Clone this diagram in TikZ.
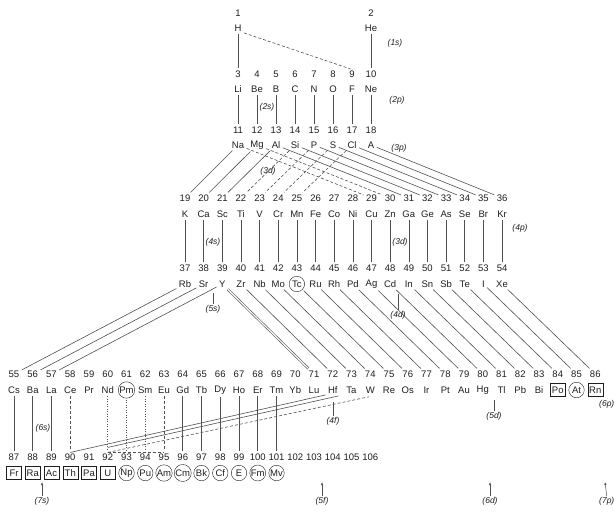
\documentclass[tikz,border=0pt]{standalone}
\usepackage{fontspec}
\setmainfont{Liberation Sans}
\usepackage{tikz}
\usetikzlibrary{arrows.meta}
\definecolor{inkgrey}{RGB}{30,30,30}
\definecolor{linegrey}{RGB}{80,80,80}
\tikzset{
  num/.style={inner sep=1pt,font=\fontsize{9.5}{10}\selectfont,text=inkgrey},
  sym/.style={inner sep=1pt,font=\fontsize{9.5}{10}\selectfont,text=inkgrey},
  bare/.style={},
  ringed/.style={draw=inkgrey,circle,inner sep=0.3pt,minimum size=15.5pt},
  boxed/.style={draw=inkgrey,rectangle,inner sep=1pt,minimum width=15pt,
    minimum height=13pt},
  link/.style={draw=linegrey,line width=0.6pt,shorten <=1.5pt,shorten >=1.5pt},
  sublink/.style={link,dash pattern=on 3pt off 2pt},
  dotlink/.style={link,dash pattern=on 1pt off 1.5pt},
  shell/.style={font=\fontsize{8.5}{9}\selectfont\itshape,inner sep=0.5pt,
    text=inkgrey},
  shelltick/.style={draw=linegrey,line width=0.5pt},
  onset/.style={draw=linegrey,line width=0.5pt,-{Latex[length=3pt,width=2.4pt]}}
}

\begin{document}
\begin{tikzpicture}[x=1pt,y=-1pt]
  \useasboundingbox (0,0) rectangle (615,511);
  % period 1
  \node[num] (n1) at (238,13) {1};
  \node[sym] (s1) at (238,28) {H};
  \node[num] (n2) at (371,13) {2};
  \node[sym] (s2) at (371,28) {He};
  % periods 2 and 3
  \foreach \z/\el [count=\k from 0] in {3/Li,4/Be,5/B,6/C,7/N,8/O,9/F,10/Ne} {
    \node[num] (n\z) at ({238+19*\k},74) {\z};
    \node[sym] (s\z) at ({238+19*\k},89) {\el};
  }
  \foreach \z/\el [count=\k from 0] in {11/Na,12/Mg,13/Al,14/Si,15/P,16/S,17/Cl,18/A} {
    \node[num] (n\z) at ({238+19*\k},130) {\z};
    \node[sym] (s\z) at ({238+19*\k},145) {\el};
  }
  % periods 4 and 5
  \foreach \z/\el [count=\k from 0] in {19/K,20/Ca,21/Sc,22/Ti,23/V,24/Cr,25/Mn,
      26/Fe,27/Co,28/Ni,29/Cu,30/Zn,31/Ga,32/Ge,33/As,34/Se,35/Br,36/Kr} {
    \node[num] (n\z) at ({185+18.65*\k},198) {\z};
    \node[sym] (s\z) at ({185+18.65*\k},214) {\el};
  }
  \foreach \z/\el/\look [count=\k from 0] in {37/Rb/bare,38/Sr/bare,39/Y/bare,
      40/Zr/bare,41/Nb/bare,42/Mo/bare,43/Tc/ringed,44/Ru/bare,45/Rh/bare,
      46/Pd/bare,47/Ag/bare,48/Cd/bare,49/In/bare,50/Sn/bare,51/Sb/bare,
      52/Te/bare,53/I/bare,54/Xe/bare} {
    \node[num] (n\z) at ({185+18.65*\k},268) {\z};
    \node[sym,\look] (s\z) at ({185+18.65*\k},284) {\el};
  }
  % period 6
  \foreach \z/\el/\look [count=\k from 0] in {55/Cs/bare,56/Ba/bare,57/La/bare,
      58/Ce/bare,59/Pr/bare,60/Nd/bare,61/Pm/ringed,62/Sm/bare,63/Eu/bare,
      64/Gd/bare,65/Tb/bare,66/Dy/bare,67/Ho/bare,68/Er/bare,69/Tm/bare,
      70/Yb/bare,71/Lu/bare,72/Hf/bare,73/Ta/bare,74/W/bare,75/Re/bare,
      76/Os/bare,77/Ir/bare,78/Pt/bare,79/Au/bare,80/Hg/bare,81/Tl/bare,
      82/Pb/bare,83/Bi/bare,84/Po/boxed,85/At/ringed,86/Rn/boxed} {
    \node[num] (n\z) at ({14+18.75*\k},374) {\z};
    \node[sym,\look] (s\z) at ({14+18.75*\k},390) {\el};
  }
  % period 7
  \foreach \z [count=\k from 0] in {87,...,106}
    \node[num] (n\z) at ({14+18.75*\k},457) {\z};
  \foreach \z/\el/\look [count=\k from 0] in {87/Fr/boxed,88/Ra/boxed,
      89/Ac/boxed,90/Th/boxed,91/Pa/boxed,92/U/boxed,93/Np/ringed,94/Pu/ringed,
      95/Am/ringed,96/Cm/ringed,97/Bk/ringed,98/Cf/ringed,99/E/ringed,
      100/Fm/ringed,101/Mv/ringed}
    \node[sym,\look] (s\z) at ({14+18.75*\k},473) {\el};

  % links 1 -> 2 -> 3
  \draw[link] (s1) -- (n3);
  \draw[sublink] (s1.south east) -- (n9.north);
  \draw[link] (s2) -- (n10);
  \foreach \a [evaluate=\a as \b using int(\a+8)] in {3,...,10}
    \draw[link] (s\a) -- (n\b);
  % links 3 -> 4
  \foreach \a/\b in {11/19,12/20,13/21,13/31,14/32,15/33,16/34,17/35,18/36}
    \draw[link] (s\a) -- (n\b);
  \foreach \a/\b in {14/22,15/23,16/24,17/25,11/29,12/30}
    \draw[sublink] (s\a) -- (n\b);
  % links 4 -> 5
  \foreach \a [evaluate=\a as \b using int(\a+18)] in {19,...,36}
    \draw[link] (s\a) -- (n\b);
  % links 5 -> 6
  \foreach \a/\b in {37/55,38/56,39/57}
    \draw[link] (s\a) -- (n\b);
  \draw[link,double=white,double distance=1.2pt] (s39) -- (n71);
  \foreach \a [evaluate=\a as \b using int(\a+32)] in {40,...,54}
    \draw[link] (s\a) -- (n\b);
  % links 6 -> 7
  \foreach \a [evaluate=\a as \b using int(\a+32)] in {55,56,57,64,65,66,67,68,69}
    \draw[link] (s\a) -- (n\b);
  \draw[sublink] (s58) -- (n90);
  \draw[sublink] (s63) -- (n95);
  \foreach \a [evaluate=\a as \b using int(\a+32)] in {60,61,62}
    \draw[dotlink] (s\a) -- (n\b);
  \draw[sublink,shorten <=0pt,shorten >=0pt] (n92.north) -- (n95.north);
  \draw[link,shorten <=0pt] (n90.north) -- (s72.south west);
  \draw[link,shorten <=0pt] ([yshift=5pt]n92.north) -- ([xshift=7pt,yshift=-1pt]s72.south);
  \draw[sublink,shorten <=0pt] (n92.north) -- ([yshift=-2pt]s74.south);

  % shell labels
  \node[shell] (l1s) at (395,43) {(1s)};
  \node[shell] (l2s) at (267,107) {(2s)};
  \node[shell] (l2p) at (397,100) {(2p)};
  \node[shell] (l3p) at (399,148) {(3p)};
  \node[shell] (l3d) at (268,171) {(3d)};
  \node[shell] (l4s) at (213,242) {(4s)};
  \node[shell] (l3dd) at (400,242) {(3d)};
  \node[shell] (l4p) at (520,228) {(4p)};
  \node[shell] (l5s) at (213,309) {(5s)};
  \node[shell] (l4d) at (398,315) {(4d)};
  \node[shell] (l6s) at (43,428) {(6s)};
  \node[shell] (l4f) at (333,421) {(4f)};
  \node[shell] (l5d) at (494,416) {(5d)};
  \node[shell,anchor=east] (l6p) at (615,404) {(6p)};
  \node[shell] (l7s) at (42,501) {(7s)};
  \node[shell] (l5f) at (322,501) {(5f)};
  \node[shell] (l6d) at (490,501) {(6d)};
  \node[shell,anchor=east] (l7p) at (615,501) {(7p)};

  % ticks and onset arrows
  \coordinate (t5s) at (213,293);
  \coordinate (t4d) at (398,294);
  \coordinate (t4f) at (333,402);
  \coordinate (t5d) at (494,400);
  \draw[shelltick] (l5s) -- (t5s);
  \draw[shelltick] (l4d) -- (t4d);
  \draw[shelltick] (l4f) -- (t4f);
  \draw[shelltick] (l5d) -- (t5d);
  \coordinate (a7s) at (42,482);
  \coordinate (a5f) at (322,482);
  \coordinate (a6d) at (490,482);
  \coordinate (a7p) at (605,482);
  \draw[onset] (l7s) -- (a7s);
  \draw[onset] (l5f) -- (a5f);
  \draw[onset] (l6d) -- (a6d);
  \draw[onset] (l7p.north) -- (a7p);
\end{tikzpicture}
\end{document}
